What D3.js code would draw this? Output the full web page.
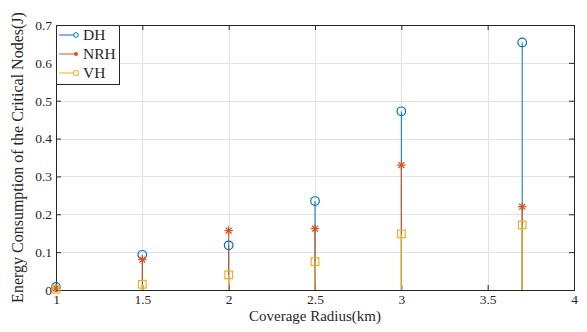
<!DOCTYPE html>
<html>
<head>
<meta charset="utf-8">
<script src="https://cdn.jsdelivr.net/npm/d3@7"></script>
<style>
  body { margin: 0; background: #fff; }
  text { font-family: "Liberation Serif", "DejaVu Serif", serif; fill: #262626; }
</style>
</head>
<body>
<div id="chart"></div>
<script>
const radius = [1, 1.5, 2, 2.5, 3, 3.7];
const dhValues = [0.008, 0.093, 0.118, 0.235, 0.472, 0.654];
const nrhValues = [0.005, 0.080, 0.157, 0.162, 0.330, 0.220];
const vhValues = [0.002, 0.015, 0.040, 0.075, 0.148, 0.172];
const xTicks = [1, 1.5, 2, 2.5, 3, 3.5, 4];
const yTicks = [0, 0.1, 0.2, 0.3, 0.4, 0.5, 0.6, 0.7];

const series = [
  { name: "DH", values: dhValues, color: "#0072BD", marker: "circle" },
  { name: "NRH", values: nrhValues, color: "#D95319", marker: "star" },
  { name: "VH", values: vhValues, color: "#EDB120", marker: "square" },
];

const width = 587, height = 332;
const margin = { top: 25, right: 13, bottom: 42, left: 56 };

const svg = d3.select("#chart").append("svg")
  .attr("width", width).attr("height", height);

const x = d3.scaleLinear().domain([1, 4]).range([margin.left, width - margin.right]);
const y = d3.scaleLinear().domain([0, 0.7]).range([height - margin.bottom, margin.top]);

// grid
const grid = svg.append("g").attr("stroke", "#e3e3e3").attr("stroke-width", 1);
grid.selectAll(".gx").data(xTicks.slice(1, -1)).join("line")
  .attr("x1", d => Math.round(x(d)) + 0.5).attr("x2", d => Math.round(x(d)) + 0.5)
  .attr("y1", y(0.7)).attr("y2", y(0));
grid.selectAll(".gy").data(yTicks.slice(1, -1)).join("line")
  .attr("y1", d => Math.round(y(d)) + 0.5).attr("y2", d => Math.round(y(d)) + 0.5)
  .attr("x1", x(1)).attr("x2", x(4));

// axes
const xAxis = svg.append("g").attr("transform", `translate(0,${y(0)})`)
  .call(d3.axisBottom(x).tickValues(xTicks).tickSize(-5).tickPadding(4).tickFormat(d3.format("")));
const xTop = svg.append("g").attr("transform", `translate(0,${y(0.7)})`)
  .call(d3.axisTop(x).tickValues(xTicks).tickSize(-5).tickFormat(""));
const yAxis = svg.append("g").attr("transform", `translate(${x(1)},0)`)
  .call(d3.axisLeft(y).tickValues(yTicks).tickSize(-5).tickPadding(4).tickFormat(d3.format("")));
const yRight = svg.append("g").attr("transform", `translate(${x(4)},0)`)
  .call(d3.axisRight(y).tickValues(yTicks).tickSize(-5).tickFormat(""));

[xAxis, xTop, yAxis, yRight].forEach(g => {
  g.attr("font-family", null);
  g.select(".domain").attr("stroke", "#262626").attr("stroke-width", 1);
  g.selectAll(".tick line").attr("stroke", "#262626");
  g.selectAll(".tick text").attr("font-size", 13.5).attr("fill", "#262626");
});

// stems
series.forEach(s => {
  const g = svg.append("g");
  g.selectAll("line").data(radius).join("line")
    .attr("x1", d => x(d)).attr("x2", d => x(d))
    .attr("y1", y(0)).attr("y2", (d, i) => y(s.values[i]))
    .attr("stroke", s.color).attr("stroke-width", 1);
});

function drawMarker(g, type, cx, cy, color) {
  if (type === "circle") {
    g.append("circle").attr("cx", cx).attr("cy", cy).attr("r", 4.3)
      .attr("fill", "none").attr("stroke", color).attr("stroke-width", 1.2);
  } else if (type === "square") {
    g.append("rect").attr("x", cx - 3.8).attr("y", cy - 3.8).attr("width", 7.6).attr("height", 7.6)
      .attr("fill", "none").attr("stroke", color).attr("stroke-width", 1.2);
  } else {
    const r = 4.2;
    [0, 45, 90, 135].forEach(a => {
      const rad = a * Math.PI / 180;
      g.append("line")
        .attr("x1", cx - r * Math.cos(rad)).attr("y1", cy - r * Math.sin(rad))
        .attr("x2", cx + r * Math.cos(rad)).attr("y2", cy + r * Math.sin(rad))
        .attr("stroke", color).attr("stroke-width", 1.2);
    });
  }
}

series.forEach(s => {
  const g = svg.append("g");
  radius.forEach((r, i) => drawMarker(g, s.marker, x(r), y(s.values[i]), s.color));
});

// legend
const lg = svg.append("g");
lg.append("rect").attr("x", x(1) + 0.5).attr("y", y(0.7) + 0.5).attr("width", 63).attr("height", 59)
  .attr("fill", "#fff").attr("stroke", "#262626").attr("stroke-width", 1);
series.forEach((s, i) => {
  const ly = y(0.7) + 10 + i * 19;
  lg.append("line").attr("x1", x(1) + 3).attr("x2", x(1) + 20).attr("y1", ly).attr("y2", ly)
    .attr("stroke", s.color).attr("stroke-width", 1);
  if (s.marker === "star") {
    lg.append("circle").attr("cx", x(1) + 20).attr("cy", ly).attr("r", 2).attr("fill", s.color);
  } else if (s.marker === "circle") {
    lg.append("circle").attr("cx", x(1) + 20).attr("cy", ly).attr("r", 2.3)
      .attr("fill", "#fff").attr("stroke", s.color).attr("stroke-width", 1);
  } else {
    lg.append("rect").attr("x", x(1) + 17.8).attr("y", ly - 2.2).attr("width", 4.4).attr("height", 4.4)
      .attr("fill", "#fff").attr("stroke", s.color).attr("stroke-width", 1);
  }
  lg.append("text").attr("x", x(1) + 27).attr("y", ly).attr("dy", "0.35em")
    .attr("font-size", 15.5).text(s.name);
});

// axis titles
svg.append("text").attr("x", (x(1) + x(4)) / 2).attr("y", 321)
  .attr("text-anchor", "middle").attr("font-size", 15).text("Coverage Radius(km)");
svg.append("text").attr("transform", `translate(23,${(y(0) + y(0.7)) / 2}) rotate(-90)`)
  .attr("text-anchor", "middle").attr("font-size", 16)
  .text("Energy Consumption of the Critical Nodes(J)");
</script>
</body>
</html>
